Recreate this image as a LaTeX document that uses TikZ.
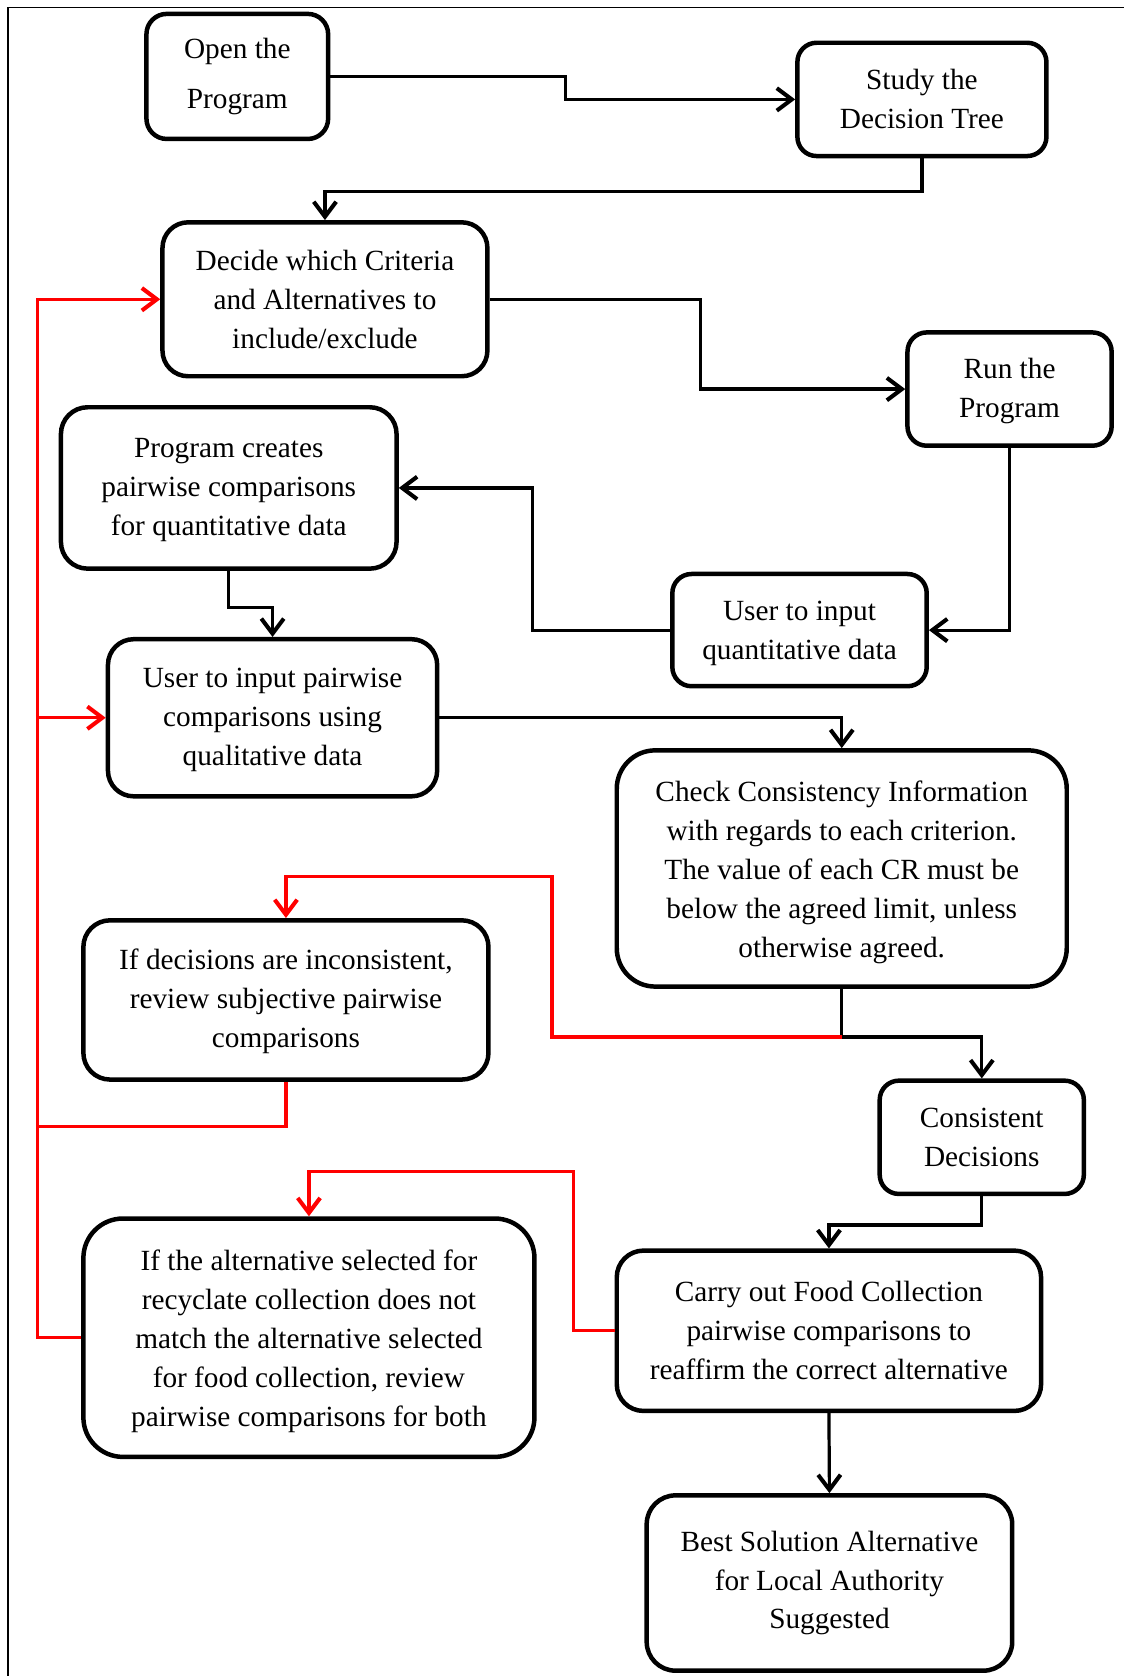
\documentclass[tikz,border=0pt]{standalone}
\usepackage{fontspec}
\setmainfont{Liberation Serif}
\usetikzlibrary{arrows.meta,calc}
\definecolor{loopred}{RGB}{255,0,0}
% invisible strut that gives a first line extra height, lowering the text block
\newcommand\toppad[1]{\rule{0pt}{#1}}
\tikzset{
  box/.style={draw, line width=4.2pt, align=center, inner sep=0pt,
    font=\fontsize{27.4}{36.4}\selectfont},
  link/.style={line width=3pt},
  arr/.style={link, -{Straight Barb[length=14pt,width=21pt,line width=3.8pt]}},
  redlink/.style={link, draw=loopred},
  redarr/.style={arr, draw=loopred},
}
\begin{document}
\begin{tikzpicture}[x=1pt, y=-1pt]
\useasboundingbox (0,0) rectangle (1052,1568);
% frame (top and left edges)
\draw[line width=1.4pt] (7.5,1568) -- (7.5,7) -- (1052,7);

% process boxes
\node[box, rounded corners=19pt, minimum width=170pt, minimum height=117pt] (open) at (222,71.5) {Open the\\[10.5pt]Program};
\node[box, rounded corners=18pt, minimum width=233pt, minimum height=106pt] (study) at (862.5,93) {Study the\\Decision Tree};
\node[box, rounded corners=24pt, minimum width=304pt, minimum height=144pt] (decide) at (304,280) {Decide which Criteria\\and Alternatives to\\include/exclude};
\node[box, rounded corners=18pt, minimum width=191pt, minimum height=106pt] (run) at (944.5,364) {\toppad{22pt}Run the\\Program};
\node[box, rounded corners=25pt, minimum width=314pt, minimum height=151pt] (pc) at (214,456.5) {\toppad{22pt}Program creates\\pairwise comparisons\\for quantitative data};
\node[box, rounded corners=18pt, minimum width=238pt, minimum height=105pt] (uq) at (748,589.5) {\toppad{24pt}User to input\\quantitative data};
\node[box, rounded corners=24pt, minimum width=308pt, minimum height=147pt] (up) at (255,671.5) {\toppad{22pt}User to input pairwise\\comparisons using\\qualitative data};
\node[box, rounded corners=36pt, minimum width=421pt, minimum height=221pt] (check) at (787.5,812.5) {\toppad{26pt}Check Consistency Information\\with regards to each criterion.\\The value of each CR must be\\below the agreed limit, unless\\otherwise agreed.};
\node[box, rounded corners=25pt, minimum width=379pt, minimum height=149pt] (ifd) at (267.5,935.5) {\toppad{22pt}If decisions are inconsistent,\\review subjective pairwise\\comparisons};
\node[box, rounded corners=18pt, minimum width=191pt, minimum height=106pt] (cons) at (918.5,1064) {Consistent\\Decisions};
\node[box, rounded corners=37pt, minimum width=422pt, minimum height=223pt] (ifa) at (289,1251.5) {\toppad{26pt}If the alternative selected for\\recyclate collection does not\\match the alternative selected\\for food collection, review\\pairwise comparisons for both};
\node[box, rounded corners=25pt, minimum width=397pt, minimum height=150pt] (carry) at (775.5,1245) {Carry out Food Collection\\pairwise comparisons to\\reaffirm the correct alternative};
\node[box, rounded corners=27pt, minimum width=342pt, minimum height=164pt] (best) at (776,1481) {Best Solution Alternative\\for Local Authority\\Suggested};

% main flow
\draw[arr] (open.east) -- ++(220,0) |- (study.west);
\draw[arr] (study.south) -- ++(0,31) -| (decide.north);
\draw[arr] (decide.east) -- ++(197,0) |- (run.west);
\draw[arr] (run.south) |- (uq.east);
\draw[arr] (uq.west) -- ++(-129,0) |- (pc.east);
\draw[arr] (pc.south) -- ++(0,34) -| (up.north);
\draw[arr] (up.east) -| (check.north);
\coordinate (split) at ($(check.south)+(0,45)$);
\draw[arr] (check.south) -- (split) -| (cons.north);
\draw[arr] (cons.south) -- ++(0,27) -| (carry.north);
\draw[arr] (carry.south) -- (best.north);

% review loops
\coordinate (trunk) at (35,1054);
\draw[redarr] (split) -- ++(-271,0) -- ++(0,-150) -| (ifd.north);
\draw[redlink] (ifd.south) |- (trunk);
\draw[redarr] (ifa.west) -| (trunk) |- (decide.west);
\draw[redarr] (trunk |- up.west) -- (up.west);
\draw[redarr] (carry.west) -- ++(-38,0) -- ++(0,-149) -| (ifa.north);
\end{tikzpicture}
\end{document}
